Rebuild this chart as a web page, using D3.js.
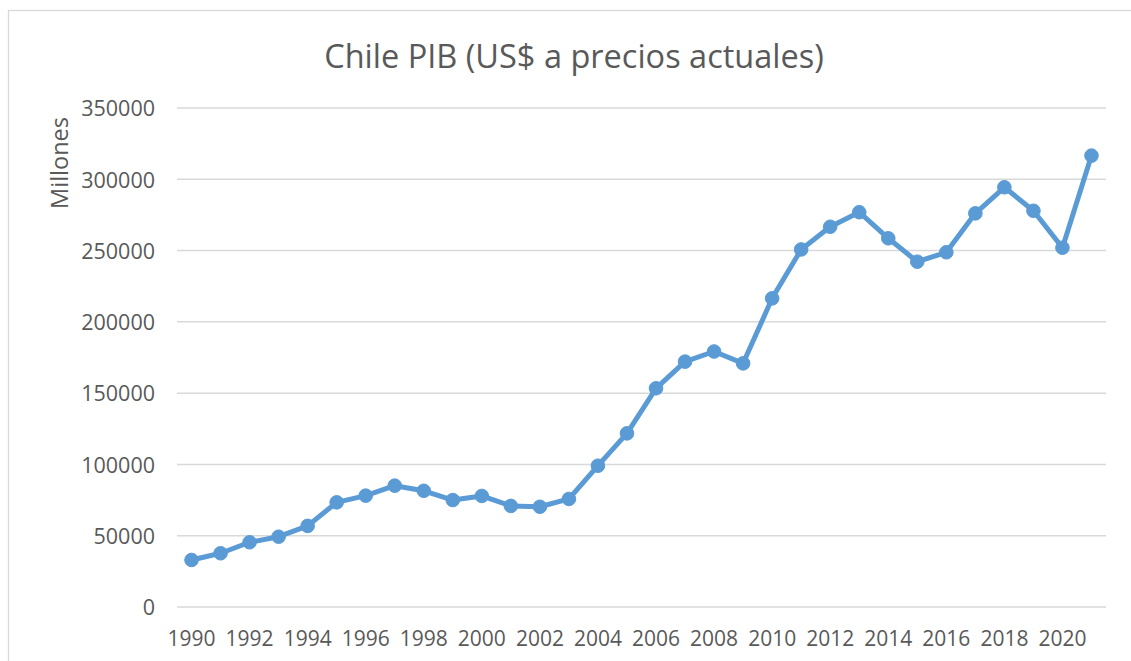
<!DOCTYPE html>
<html>
<head>
<meta charset="utf-8">
<script src="https://cdn.jsdelivr.net/npm/d3@7"></script>
<style>
  html, body { margin: 0; padding: 0; background: #ffffff; }
  svg { display: block; }
  text { font-family: "Open Sans", "Noto Sans", sans-serif; fill: #595959; }
</style>
</head>
<body>
<svg id="chart" width="1131" height="661"></svg>
<script>
const years = [1990,1991,1992,1993,1994,1995,1996,1997,1998,1999,2000,2001,2002,2003,2004,2005,2006,2007,2008,2009,2010,2011,2012,2013,2014,2015,2016,2017,2018,2019,2020,2021];
const pib = [33000,37700,45400,49300,56900,73400,78100,85100,81500,75000,77900,70900,70300,75800,99100,121800,153400,172100,179200,170900,216500,250800,266700,276900,258600,242200,248800,276100,294400,277900,252000,316600];
const yTicks = [0,50000,100000,150000,200000,250000,300000,350000];
const xTickYears = [1990,1992,1994,1996,1998,2000,2002,2004,2006,2008,2010,2012,2014,2016,2018,2020];
const titleText = "Chile PIB (US$ a precios actuales)";
const yLabel = "Millones";

const svg = d3.select("#chart");
const plot = {left: 177, right: 1106, top: 108, bottom: 607};

// outer chart border (extends beyond right/bottom edges)
svg.append("rect")
  .attr("x", 8.5).attr("y", 10.5)
  .attr("width", 1200).attr("height", 800)
  .attr("fill", "#ffffff")
  .attr("stroke", "#d9d9d9").attr("stroke-width", 1.3);

const x = d3.scaleBand()
  .domain(years)
  .range([plot.left, plot.right])
  .paddingInner(0).paddingOuter(0);
const y = d3.scaleLinear()
  .domain([0, 350000])
  .range([plot.bottom, plot.top]);

// gridlines
svg.append("g")
  .selectAll("line")
  .data(yTicks)
  .join("line")
  .attr("x1", plot.left).attr("x2", plot.right)
  .attr("y1", d => y(d)).attr("y2", d => y(d))
  .attr("stroke", "#d9d9d9").attr("stroke-width", 1.5);

// y axis labels
const yAxis = d3.axisLeft(y).tickValues(yTicks).tickSize(0).tickPadding(0).tickFormat(d3.format("d"));
const gy = svg.append("g")
  .attr("transform", `translate(${155},0)`)
  .call(yAxis);
gy.select(".domain").remove();
gy.selectAll("text")
  .attr("font-size", 21.5)
  .attr("fill", "#595959")
  .attr("font-family", "Open Sans")
  .attr("dy", "0.36em");

// x axis labels
const xAxis = d3.axisBottom(x).tickValues(xTickYears).tickSize(0).tickPadding(0);
const gx = svg.append("g")
  .attr("transform", `translate(0,${plot.bottom})`)
  .call(xAxis);
gx.select(".domain").remove();
gx.selectAll("text")
  .attr("font-size", 21)
  .attr("fill", "#595959")
  .attr("font-family", "Open Sans")
  .attr("y", 38.5)
  .attr("dy", 0);

const cx = d => x(d) + x.bandwidth() / 2;

// line
const line = d3.line()
  .x((d, i) => cx(years[i]))
  .y(d => y(d));
svg.append("path")
  .datum(pib)
  .attr("d", line)
  .attr("fill", "none")
  .attr("stroke", "#5b9bd5")
  .attr("stroke-width", 5)
  .attr("stroke-linejoin", "round")
  .attr("stroke-linecap", "round");

// markers
svg.append("g")
  .selectAll("circle")
  .data(pib)
  .join("circle")
  .attr("cx", (d, i) => cx(years[i]))
  .attr("cy", d => y(d))
  .attr("r", 6.8)
  .attr("fill", "#5b9bd5")
  .attr("stroke", "#5b9bd5")
  .attr("stroke-width", 1);

// title
svg.append("text")
  .attr("x", 574).attr("y", 68)
  .attr("text-anchor", "middle")
  .attr("font-size", 32.5)
  .attr("fill", "#595959")
  .text(titleText);

// y axis title
svg.append("text")
  .attr("transform", `translate(68,163) rotate(-90)`)
  .attr("text-anchor", "middle")
  .attr("font-size", 23.5)
  .attr("fill", "#595959")
  .text(yLabel);
</script>
</body>
</html>
